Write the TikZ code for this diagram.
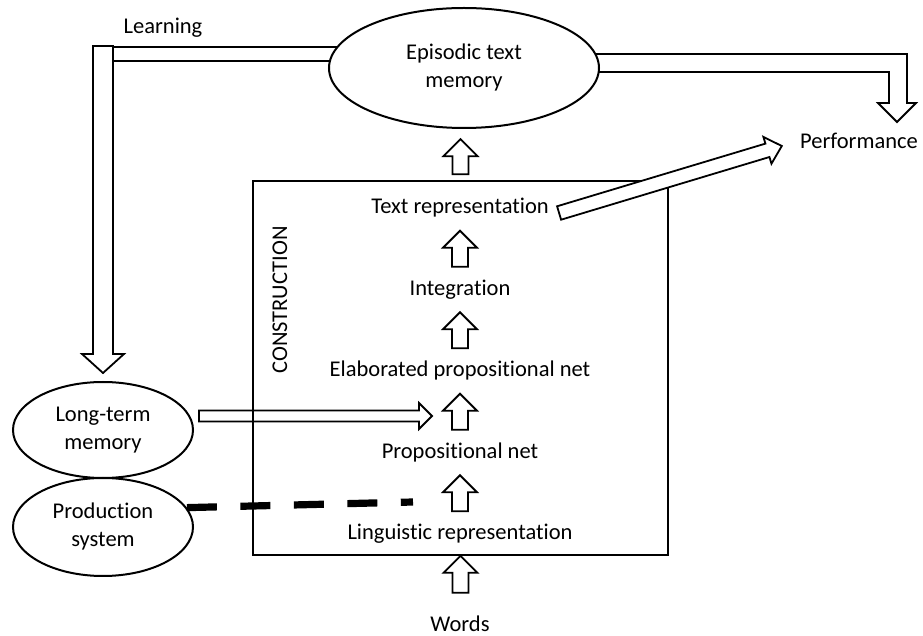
\documentclass[tikz,border=0pt]{standalone}
\usepackage{fontspec}
\setmainfont{Carlito}[Ligatures=NoCommon]
\usetikzlibrary{positioning,calc,shapes.geometric,backgrounds}

\tikzset{
  memory/.style={ellipse, draw, line width=1pt, fill=white, align=center, inner sep=0pt},
  stage/.style={inner sep=2pt},
  blockline/.style={draw, line width=0.9pt, line join=miter},
}

% hollow block arrow: [style] {tail} {tip} {shaft half width} {head half width} {head length}
\newcommand{\blockarrow}[6][]{%
  \coordinate (ba-p) at ($(#3)!#6!(#2)$);
  \draw[blockline,#1] ($(#2)!#4!90:(#3)$) -- ($(ba-p)!#4!90:(#3)$) -- ($(ba-p)!#5!90:(#3)$)
    -- (#3) -- ($(ba-p)!#5!-90:(#3)$) -- ($(ba-p)!#4!-90:(#3)$) -- ($(#2)!#4!-90:(#3)$) -- cycle;}

\begin{document}
\begin{tikzpicture}[x=0.5pt, y=-0.5pt, font=\fontsize{11.25}{14}\selectfont, node distance=40.75pt, on grid]
\useasboundingbox (0,0) rectangle (923,636);

\node[memory, minimum width=135pt, minimum height=60pt] (episodic) at (464,68) {Episodic text\\memory};
\node[memory, minimum width=90pt, minimum height=48pt] (ltm) at (103,430) {Long-term\\memory};
\node[memory, minimum width=90pt, minimum height=49pt] (prod) at (103,527) {Production\\system};

\node[draw, line width=0.8pt, minimum width=207.5pt, minimum height=187pt] (box) at (460.5,368) {};
\node[stage, rotate=90] (constr) at (280,300) {CONSTRUCTION};
\node[stage] (textrep) at (460,208) {Text representation};
\node[stage, below=of textrep] (integ) {Integration};
\node[stage, below=of integ] (elab) {Elaborated propositional net};
\node[stage, below=of elab] (prop) {Propositional net};
\node[stage, below=of prop] (ling) {Linguistic representation};
\node[stage, inner sep=0pt] (words) at (460,624) {Words};
\node[stage] (perf) at (859,141) {Performance};
\node[stage] (learn) at (163,28) {Learning};

% bent arrows behind the episodic memory
\begin{pgfonlayer}{background}
\coordinate (learntip) at ($(ltm.north)+(0,-8)$);
\draw[blockline] (113,47) rectangle ($(episodic)+(0,-7)$);
\draw[blockline] (learntip) -- ++(21,-19) -- ++(-11,0) -- ++(0,-308) -- ++(-20,0) -- ++(0,308) -- ++(-11,0) -- cycle;
\coordinate (perftip) at (897,122);
\draw[blockline] (perftip) -- ++(19,-19) -- ++(-9,0) |- ($(episodic)+(0,-14)$) -- ++(0,18)
  -| ($(perftip)+(-8,-19)$) -- ++(-11,0) -- cycle;
\end{pgfonlayer}

% stages
\foreach \lo/\hi in {ling/prop, prop/elab, elab/integ, integ/textrep} {
  \coordinate (tail) at ($(\lo)!0.5!(\hi)+(0,18)$);
  \coordinate (tip) at ($(\lo)!0.5!(\hi)+(0,-18)$);
  \blockarrow{tail}{tip}{4pt}{8.5pt}{8.5pt}
}
\coordinate (toptail) at ($(box.north)+(0,-6)$);
\coordinate (toptip) at ($(box.north)+(0,-41)$);
\blockarrow{toptail}{toptip}{4pt}{8.5pt}{8.5pt}
\coordinate (wordtail) at ($(box.south)+(0,37)$);
\blockarrow{wordtail}{box.south}{4pt}{8.5pt}{8.5pt}

\coordinate (diagtail) at ($(textrep.east)+(6,5)$);
\coordinate (diagtip) at ($(perf.west)+(-14,5)$);
\blockarrow[fill=white]{diagtail}{diagtip}{3.5pt}{7pt}{7.5pt}

\coordinate (ltmtail) at ($(ltm.east)+(5,-14)$);
\coordinate (ltmtip) at ($(ltmtail)+(233,0)$);
\blockarrow{ltmtail}{ltmtip}{2.75pt}{6.5pt}{6.5pt}

\coordinate (dashend) at (413,502);
\draw[line width=3.6pt, dash pattern=on 15pt off 11.75pt] (prod.13) -- (dashend);
\end{tikzpicture}
\end{document}
